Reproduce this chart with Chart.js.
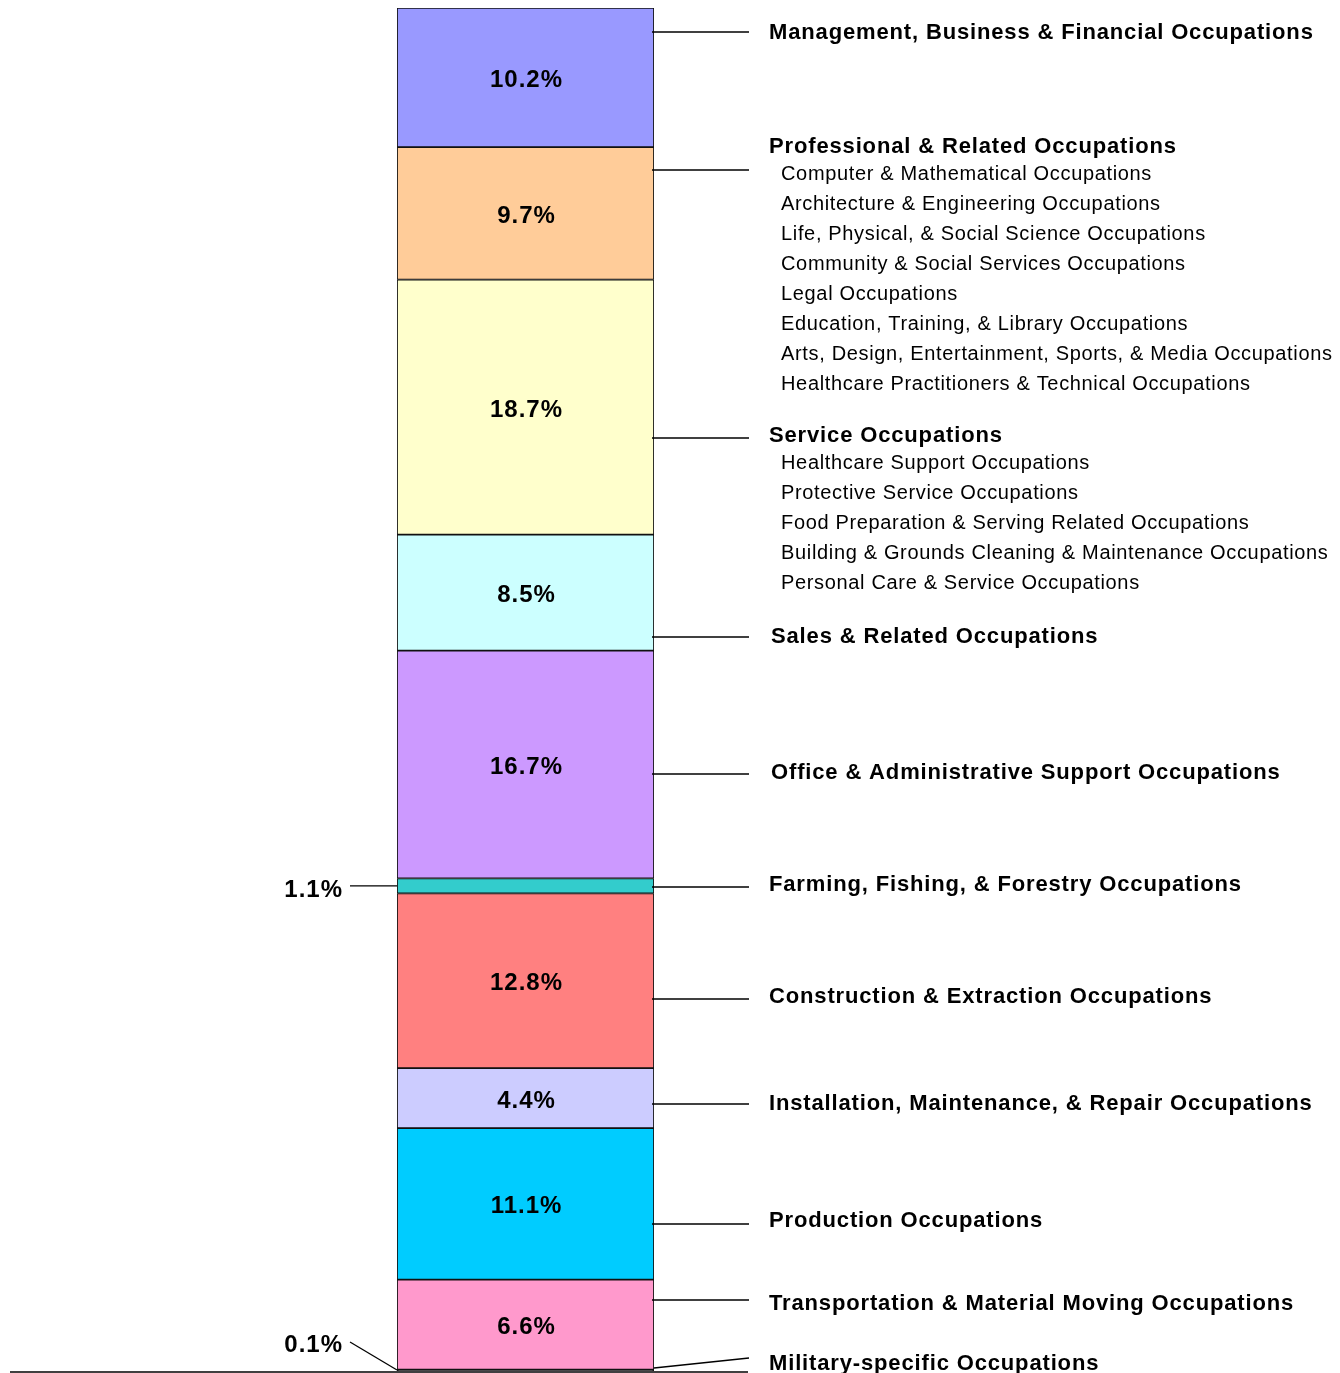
<!DOCTYPE html>
<html>
<head>
<meta charset="utf-8">
<script src="https://cdn.jsdelivr.net/npm/chart.js@4.4.1/dist/chart.umd.min.js"></script>
<style>
  html, body { margin: 0; padding: 0; background: #fff; }
  #wrap { width: 1340px; height: 1373px; position: relative; }
</style>
</head>
<body>
<div id="wrap"><canvas id="myChart"></canvas></div>
<script>
// data, bottom segment first
const categories = [
  "Military-specific Occupations",
  "Transportation & Material Moving Occupations",
  "Production Occupations",
  "Installation, Maintenance, & Repair Occupations",
  "Construction & Extraction Occupations",
  "Farming, Fishing, & Forestry Occupations",
  "Office & Administrative Support Occupations",
  "Sales & Related Occupations",
  "Service Occupations",
  "Professional & Related Occupations",
  "Management, Business & Financial Occupations",
];
const shares = [0.1, 6.6, 11.1, 4.4, 12.8, 1.1, 16.7, 8.5, 18.7, 9.7, 10.2];
const valueLabels = ["0.1%", "6.6%", "11.1%", "4.4%", "12.8%", "1.1%", "16.7%", "8.5%", "18.7%", "9.7%", "10.2%"];
const subGroups = {
  "Professional & Related Occupations": [
    "Computer & Mathematical Occupations",
    "Architecture & Engineering Occupations",
    "Life, Physical, & Social Science Occupations",
    "Community & Social Services Occupations",
    "Legal Occupations",
    "Education, Training, & Library Occupations",
    "Arts, Design, Entertainment, Sports, & Media Occupations",
    "Healthcare Practitioners & Technical Occupations",
  ],
  "Service Occupations": [
    "Healthcare Support Occupations",
    "Protective Service Occupations",
    "Food Preparation & Serving Related Occupations",
    "Building & Grounds Cleaning & Maintenance Occupations",
    "Personal Care & Service Occupations",
  ],
};

// styles
const colors = ["#222222", "#FF99CC", "#00CCFF", "#CCCCFF", "#FF8080", "#33CCCC",
                "#CC99FF", "#CCFFFF", "#FFFFCC", "#FFCC99", "#9999FF"];
// where the right-hand labels and their leader lines sit (pixels)
const labelY = [1364, 1304, 1221, 1104, 997, 885, 773, 637, 436, 147, 33];
const leaderY = [1358, 1300, 1224, 1104, 999, 887, 774, 637, 438, 170, 32];
const labelX = [769, 769, 769, 769, 769, 769, 771, 771, 769, 769, 769];

const total = shares.reduce((a, b) => a + b, 0);

const labelsPlugin = {
  id: "labelsPlugin",
  afterDraw(chart) {
    const { ctx, chartArea: { left, right, bottom } } = chart;
    ctx.save();
    ctx.strokeStyle = "#000";
    ctx.fillStyle = "#000";
    ctx.lineWidth = 1.3;
    ctx.textBaseline = "middle";

    // baseline
    ctx.beginPath();
    ctx.moveTo(10, bottom + 1);
    ctx.lineTo(748, bottom + 1);
    ctx.stroke();

    categories.forEach((name, i) => {
      const bar = chart.getDatasetMeta(i).data[0];
      const mid = (bar.y + bar.base) / 2;

      // value label
      ctx.font = "bold 24px 'Liberation Sans', Arial, sans-serif";
      ctx.letterSpacing = "1px";
      if (shares[i] >= 2) {
        ctx.textAlign = "center";
        ctx.fillText(valueLabels[i], (left + right) / 2 + 1, mid + 3);
      } else {
        ctx.textAlign = "right";
        const ly = i === 0 ? 1345 : mid + 4;
        ctx.fillText(valueLabels[i], 343, ly);
        ctx.beginPath();
        ctx.moveTo(350, i === 0 ? 1342 : mid);
        ctx.lineTo(left, i === 0 ? bar.base - 1 : mid);
        ctx.stroke();
      }

      // leader line to the right label
      ctx.beginPath();
      if (i === 0) {
        ctx.moveTo(right, bar.base - 3);
      } else {
        ctx.moveTo(right - 2, leaderY[i]);
      }
      ctx.lineTo(749, leaderY[i]);
      ctx.stroke();

      // category label
      ctx.textAlign = "left";
      ctx.font = "bold 22px 'Liberation Sans', Arial, sans-serif";
      ctx.letterSpacing = "0.85px";
      ctx.fillText(name, labelX[i], labelY[i]);

      const subs = subGroups[name];
      if (subs) {
        ctx.font = "20px 'Liberation Sans', Arial, sans-serif";
        ctx.letterSpacing = "0.66px";
        subs.forEach((s, k) => {
          ctx.fillText(s, 781, labelY[i] + 27 + k * 30.1);
        });
      }
    });
    ctx.restore();
  },
};

const data = {
  labels: ["Occupations"],
  datasets: categories.map((name, i) => ({
    label: name,
    data: [shares[i]],
    backgroundColor: colors[i],
    borderColor: "#111",
    borderWidth: 1.2,
    borderSkipped: false,
    barPercentage: 1,
    categoryPercentage: 1,
  })),
};

const config = {
  type: "bar",
  data: data,
  options: {
    responsive: true,
    maintainAspectRatio: false,
    animation: false,
    layout: { padding: { left: 397, right: 686, top: 8, bottom: 2 } },
    plugins: {
      legend: { display: false },
      tooltip: { enabled: false },
    },
    scales: {
      x: { stacked: true, display: false },
      y: { stacked: true, display: false, min: 0, max: total },
    },
  },
  plugins: [labelsPlugin],
};

const myChart = new Chart(document.getElementById("myChart"), config);
</script>
</body>
</html>
